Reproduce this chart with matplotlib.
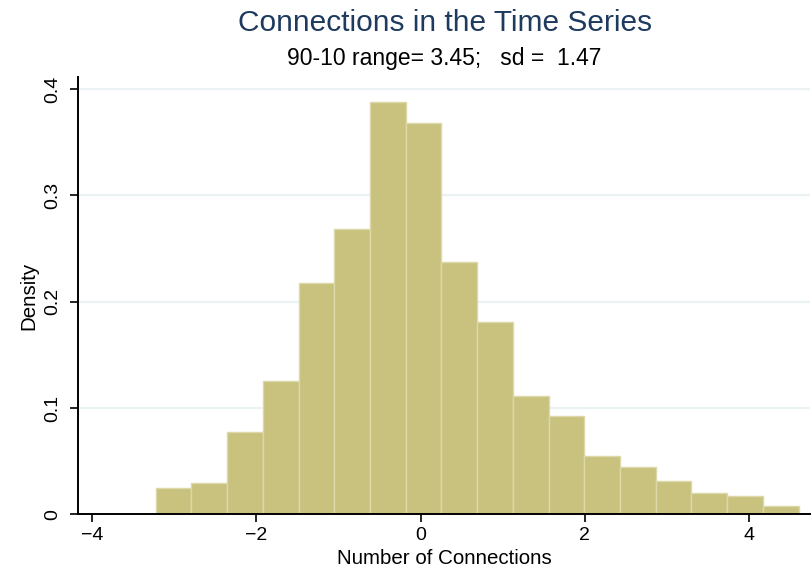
import matplotlib
matplotlib.use("Agg")
import matplotlib.pyplot as plt
import numpy as np

plt.rcParams['font.family'] = ['Liberation Sans', 'DejaVu Sans']

# Histogram data
bin_start = -3.224
bin_width = 0.4348
density = [0.0245, 0.0292, 0.0777, 0.1254, 0.2173, 0.2684, 0.3879, 0.3678, 0.2376,
           0.1812, 0.1113, 0.0928, 0.0551, 0.0448, 0.0310, 0.0198, 0.0175, 0.0075]
x_ticks = [-4, -2, 0, 2, 4]
y_ticks = [0, 0.1, 0.2, 0.3, 0.4]
y_ticklabels = ["0", "0.1", "0.2", "0.3", "0.4"]
title = "Connections in the Time Series"
subtitle = "90-10 range= 3.45;   sd =  1.47"

lefts = bin_start + bin_width * np.arange(len(density))

fig = plt.figure(figsize=(8.12, 5.71), dpi=100)
ax = fig.add_axes([0.096, 0.0993, 0.9015, 0.7664])

for y in y_ticks[1:]:
    ax.axhline(y, color="#eaf2f3", lw=1.6, zorder=0)

ax.bar(lefts, density, width=bin_width, align="edge", color="#c9c27e",
       edgecolor="#dcd8a8", linewidth=1.0, zorder=2)

ax.set_xlim(-4.17, 4.74)
ax.set_ylim(0, 0.4117)
ax.set_xticks(x_ticks)
ax.set_xticklabels([str(t).replace("-", "\u2212") for t in x_ticks], fontsize=14)
ax.set_yticks(y_ticks)
ax.set_yticklabels(y_ticklabels, fontsize=14, rotation=90, va="center")
ax.tick_params(direction="out", length=6, width=1.2, color="black")
ax.tick_params(axis="x", pad=3)
ax.tick_params(axis="y", pad=6)

for s in ["top", "right"]:
    ax.spines[s].set_visible(False)
for s in ["left", "bottom"]:
    ax.spines[s].set_linewidth(1.4)

ax.set_xlabel("Number of Connections", fontsize=14.8, labelpad=4)
ax.set_ylabel("Density", fontsize=14.8, labelpad=4)

fig.text(0.5475, 0.959, title, ha="center", va="center",
         fontsize=21.5, color="#1e3a5f")
fig.text(0.5475, 0.898, subtitle, ha="center", va="center",
         fontsize=16.5, color="black")

fig.savefig("out.png", dpi=100, facecolor="white")
